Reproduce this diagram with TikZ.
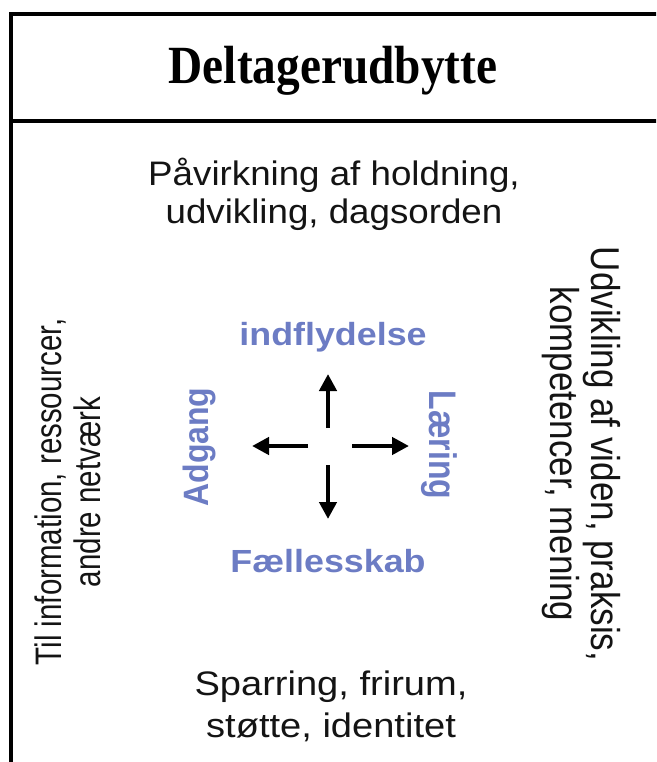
\documentclass[tikz,border=0pt]{standalone}
\usepackage{fontspec}
\setmainfont{Liberation Sans}
\newfontfamily\titlefont{Liberation Serif}
\usetikzlibrary{arrows.meta}
\definecolor{lblue}{RGB}{108,124,196}
\definecolor{ink}{RGB}{20,20,20}
\tikzset{
  frame/.style={line width=4.5pt, line cap=rect, draw=black},
  titletext/.style={inner sep=0pt, font=\titlefont\bfseries\fontsize{43}{50}\selectfont},
  bodytext/.style={inner sep=0pt, text=ink, align=center},
  bluetext/.style={inner sep=0pt, text=lblue, font=\bfseries\fontsize{32}{36}\selectfont},
  flow/.style={line width=4.5pt, -{Triangle[length=17pt,width=17pt]}, draw=black}
}
\begin{document}
\begin{tikzpicture}[x=1pt,y=-1pt]
\useasboundingbox (0,0) rectangle (656,762);
\clip (0,0) rectangle (656,762);
% frame
\coordinate (tl) at (11,14);
\coordinate (tr) at (680,14);
\coordinate (bl) at (11,790);
\coordinate (dl) at (11,121);
\coordinate (dr) at (680,121);
\draw[frame] (tr) -- (tl) -- (bl);
\draw[frame] (dl) -- (dr);
% title
\node[titletext, anchor=base] (title) at (333,84) {\scalebox{1.1}[1.25]{Deltagerudbytte}};
% outer texts
\node[bodytext] (topt) at (334,196) {\scalebox{1.08}[1]{\fontsize{34}{38}\selectfont\begin{tabular}{@{}c@{}}Påvirkning af holdning,\\udvikling, dagsorden\end{tabular}}};
\node[bodytext] (bott) at (331,708) {\scalebox{1.12}[1]{\fontsize{34}{42}\selectfont\begin{tabular}{@{}c@{}}Sparring, frirum,\\støtte, identitet\end{tabular}}};
\node[bodytext] (leftt) at (73,492) {\scalebox{1.25}[1]{\rotatebox{90}{\fontsize{29.5}{31}\selectfont\begin{tabular}{@{}c@{}}Til information, ressourcer,\\andre netværk\end{tabular}}}};
\node[bodytext] (rightt) at (580,454) {\scalebox{1.15}[1]{\rotatebox{-90}{\fontsize{35}{32}\selectfont\begin{tabular}{@{}c@{}}Udvikling af viden, praksis,\\kompetencer, mening\end{tabular}}}};
% blue labels
\node[bluetext, anchor=base] (infl) at (333,345) {\scalebox{1.12}[1]{indflydelse}};
\node[bluetext, anchor=base] (faell) at (328,572) {\scalebox{1.12}[1]{Fællesskab}};
\node[bluetext, rotate=90] (adg) at (199,447) {\scalebox{1}[1.1]{Adgang}};
\node[bluetext, rotate=-90] (laer) at (439,445) {\scalebox{1}[1.2]{Læring}};
% arrows
\coordinate (uS) at (328,428); \coordinate (uE) at (328,374);
\coordinate (dS) at (328,465); \coordinate (dE) at (328,519);
\coordinate (lS) at (308,446); \coordinate (lE) at (252,446);
\coordinate (rS) at (352,446); \coordinate (rE) at (409,446);
\draw[flow] (uS) -- (uE);
\draw[flow] (dS) -- (dE);
\draw[flow] (lS) -- (lE);
\draw[flow] (rS) -- (rE);
\end{tikzpicture}
\end{document}
